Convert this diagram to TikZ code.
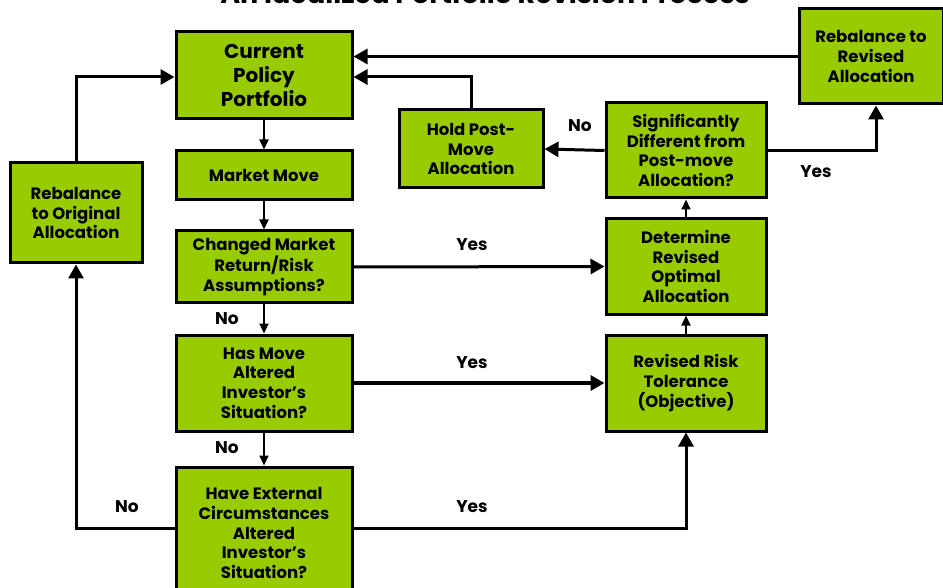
\documentclass[tikz,border=0pt]{standalone}
\usepackage{fontspec}
\setmainfont{Poppins}
\usetikzlibrary{arrows.meta}
\definecolor{boxgreen}{HTML}{99CC00}
\begin{document}
\begin{tikzpicture}[x=1pt,y=-1pt,
  box/.style={draw=black, line width=3pt, fill=boxgreen, align=center,
    inner sep=2pt, font=\bfseries\fontsize{16.5}{19.8}\selectfont},
  lbl/.style={font=\bfseries\fontsize{17}{20}\selectfont},
  flow/.style={line width=3pt, -{Triangle[length=14pt,width=15pt]}},
  thinflow/.style={line width=2pt, -{Triangle[length=10pt,width=9pt]}},
  plain/.style={line width=3pt}]
\useasboundingbox (0,0) rectangle (943,588);
% title, running off the top edge of the page
\node[anchor=base, font=\bfseries\fontsize{27}{30}\selectfont] (title) at (485,4)
  {An Idealized Portfolio Revision Process};
% boxes
\node[box, minimum width=176pt, minimum height=87pt,
  font=\bfseries\fontsize{20}{24}\selectfont] (cur) at (264,75.5)
  {Current\\Policy\\Portfolio};
\node[box, minimum width=176pt, minimum height=49pt] (mkt) at (264,175.5) {Market Move};
\node[box, minimum width=176pt, minimum height=72pt] (chg) at (264,267)
  {Changed Market\\Return/Risk\\Assumptions?};
\node[box, minimum width=176pt, minimum height=96pt] (has) at (264,383)
  {Has Move\\Altered\\Investor's\\Situation?};
\node[box, minimum width=176pt, minimum height=132pt] (ext) at (264,533)
  {Have External\\Circumstances\\Altered\\Investor's\\Situation?};
\node[box, minimum width=132pt, minimum height=100pt] (reo) at (76,213)
  {Rebalance\\to Original\\Allocation};
\node[box, minimum width=144pt, minimum height=78pt] (hold) at (471,149)
  {Hold Post-\\Move\\Allocation};
\node[box, minimum width=160pt, minimum height=95pt] (sig) at (686,150.5)
  {Significantly\\Different from\\Post-move\\Allocation?};
\node[box, minimum width=160pt, minimum height=95pt] (det) at (686,266.5)
  {Determine\\Revised\\Optimal\\Allocation};
\node[box, minimum width=160pt, minimum height=96pt] (rr) at (686,383)
  {Revised Risk\\Tolerance\\(Objective)};
\node[box, minimum width=144pt, minimum height=95pt] (rrv) at (871,56.5)
  {Rebalance to\\Revised\\Allocation};
% helper points for bends
\coordinate (low) at (0,528);
\coordinate (high) at (0,77);
\coordinate (yesbend) at (876,151);
% connectors
\draw[thinflow] (cur.south) -- (mkt.north);
\draw[thinflow] (mkt.south) -- (chg.north);
\draw[thinflow] (chg.south) -- (has.north);
\draw[thinflow] (has.south) -- (ext.north);
\draw[flow] (chg.east) -- (det.west);
\draw[flow, line width=4pt] (has.east) -- (rr.west);
\draw[flow] (ext.east |- low) -| (rr.south);
\draw[flow] (ext.west |- low) -| (reo.south);
\draw[flow] (reo.north) |- (cur.west |- high);
\draw[thinflow] (rr.north) -- (det.south);
\draw[thinflow] (det.north) -- (sig.south);
\draw[flow] (sig.west) -- (hold.east);
\draw[flow] (sig.east |- yesbend) -| (rrv.south -| yesbend);
\draw[flow] (rrv.west) -- (cur.east |- rrv.west);
\draw[flow] (hold.north) |- (cur.east |- high);
% labels
\node[lbl] (l1) at (227,319) {No};
\node[lbl] (l2) at (227,448) {No};
\node[lbl] (l3) at (127,507) {No};
\node[lbl] (l4) at (580,126) {No};
\node[lbl] (l5) at (472,245) {Yes};
\node[lbl] (l6) at (472,363) {Yes};
\node[lbl] (l7) at (472,507) {Yes};
\node[lbl] (l8) at (816,172) {Yes};
\end{tikzpicture}
\end{document}
